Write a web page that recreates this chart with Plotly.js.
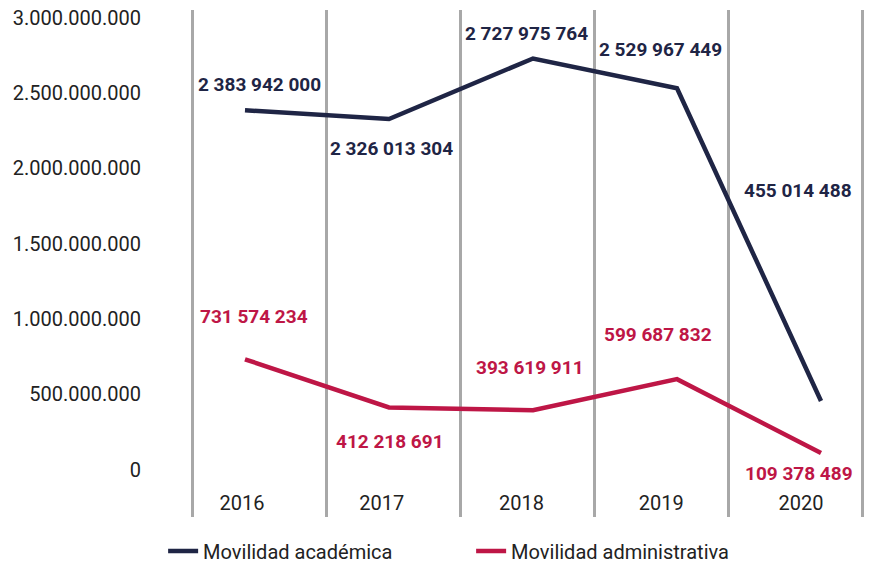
<!DOCTYPE html>
<html>
<head>
<meta charset="utf-8">
<script src="https://cdn.plot.ly/plotly-3.0.1.min.js"></script>
<style>html,body{margin:0;padding:0;background:#fff;}#chart{width:877px;height:568px;}</style>
</head>
<body>
<div id="chart"></div>
<script>
// ---- data ----
const years = ['2016', '2017', '2018', '2019', '2020'];
const academica = [2383942000, 2326013304, 2727975764, 2529967449, 455014488];
const administrativa = [731574234, 412218691, 393619911, 599687832, 109378489];
const yTickVals = [0, 500000000, 1000000000, 1500000000, 2000000000, 2500000000, 3000000000];
const yTickText = ['0', '500.000.000', '1.000.000.000', '1.500.000.000', '2.000.000.000', '2.500.000.000', '3.000.000.000'];
const seriesNames = ['Movilidad académica', 'Movilidad administrativa'];

// ---- label offsets (pixels) ----
const acadShift = [[15, 26], [2, -29], [-7, 25], [-17, 39], [-23, 210]];
const adminShift = [[9, 43], [1, -34], [-3, 43], [-19, 45], [-22, -20]];

const navy = '#1f2545';
const crimson = '#be1646';
const idx = years.map((_, i) => i);
const fmt = v => String(v).replace(/\B(?=(\d{3})+(?!\d))/g, ' ');

const traces = [
  {x: idx, y: academica, name: seriesNames[0], type: 'scatter', mode: 'lines',
   line: {color: navy, width: 4.5}, xaxis: 'x', yaxis: 'y', hoverinfo: 'skip'},
  {x: idx, y: administrativa, name: seriesNames[1], type: 'scatter', mode: 'lines',
   line: {color: crimson, width: 4.5}, xaxis: 'x', yaxis: 'y', hoverinfo: 'skip'},
  {x: [], y: [], xaxis: 'x2', yaxis: 'y', showlegend: false, hoverinfo: 'skip'},
  {x: [], y: [], xaxis: 'x3', yaxis: 'y', showlegend: false, hoverinfo: 'skip'}
];

const annotations = [];
academica.forEach((v, i) => annotations.push({
  x: i, y: v, xref: 'x', yref: 'y', text: fmt(v), showarrow: false,
  xshift: acadShift[i][0], yshift: acadShift[i][1],
  font: {family: 'Roboto', size: 19, color: navy, weight: 700}
}));
administrativa.forEach((v, i) => annotations.push({
  x: i, y: v, xref: 'x', yref: 'y', text: fmt(v), showarrow: false,
  xshift: adminShift[i][0], yshift: adminShift[i][1],
  font: {family: 'Roboto', size: 19, color: crimson, weight: 700}
}));

const gridVals = years.map((_, i) => i - 0.5).concat([years.length - 0.5]);

const layout = {
  width: 877, height: 568,
  margin: {l: 190, r: 13, t: 10, b: 51},
  paper_bgcolor: '#fff', plot_bgcolor: '#fff',
  font: {family: 'Roboto', size: 20, color: '#222'},
  showlegend: true,
  legend: {orientation: 'h', xref: 'container', yref: 'container', x: 0.186, y: 0.03,
           xanchor: 'left', yanchor: 'middle', entrywidth: 263, entrywidthmode: 'pixels',
           font: {family: 'Roboto', size: 20, color: '#222'}},
  xaxis: {type: 'linear', range: [-0.3819, 4.2986], showgrid: false, zeroline: false,
          showticklabels: false, ticks: '', showline: false},
  xaxis2: {type: 'linear', overlaying: 'x', anchor: 'y', range: [-0.5149, 4.5149],
           tickvals: gridVals, showgrid: true, gridcolor: '#a8a8a8', gridwidth: 3,
           showticklabels: false, ticks: '', zeroline: false, showline: false},
  xaxis3: {type: 'linear', overlaying: 'x', anchor: 'y', side: 'bottom', range: [-0.3721, 4.4508],
           tickvals: idx, ticktext: years, showgrid: false, zeroline: false, showline: false,
           ticks: '', ticklabelposition: 'inside', tickfont: {family: 'Roboto', size: 20, color: '#222'}},
  yaxis: {range: [-315300000, 3049800000], tickvals: yTickVals, ticktext: yTickText,
          showgrid: false, zeroline: false, showline: false, ticks: 'outside', ticklen: 44,
          tickcolor: 'rgba(0,0,0,0)', tickfont: {family: 'Roboto', size: 20, color: '#222'}},
  annotations: annotations
};

Plotly.newPlot('chart', traces, layout, {displayModeBar: false, staticPlot: true});
</script>
</body>
</html>
